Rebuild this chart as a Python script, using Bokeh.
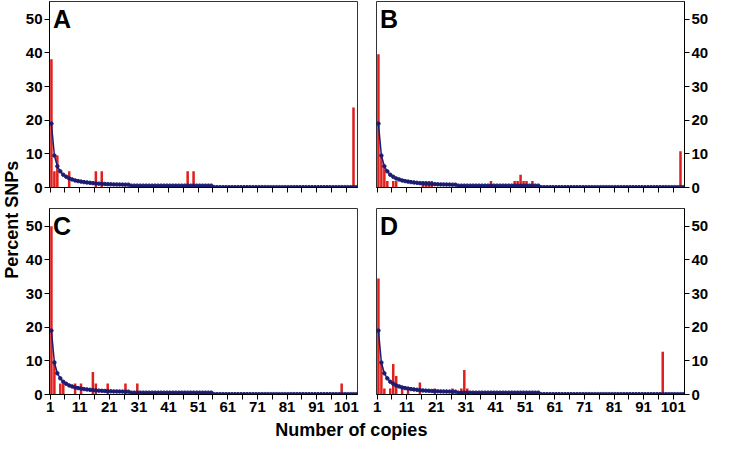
from math import pi
from bokeh.plotting import figure
from bokeh.models import FixedTicker, Label, ColumnDataSource, Range1d
from bokeh.layouts import row, column
from bokeh.transform import dodge
from bokeh.embed import file_html
from bokeh.resources import INLINE

# ---------------- data ----------------
copies = list(range(1, 106))
expected_pct = [19.0, 9.5, 6.3, 4.8, 3.8, 3.2, 2.7, 2.4, 2.1, 1.9,
                1.75, 1.6, 1.5, 1.4, 1.3, 1.2, 1.15, 1.1, 1.05, 1.0,
                0.95, 0.92, 0.9, 0.88, 0.86, 0.85, 0.84,
                0.55, 0.55, 0.55, 0.55, 0.55, 0.55, 0.55, 0.55, 0.55, 0.55,
                0.55, 0.55, 0.55, 0.55, 0.55, 0.55, 0.55, 0.55, 0.55, 0.55,
                0.55, 0.55, 0.55, 0.55, 0.55, 0.55, 0.55, 0.55,
                0.1, 0.1, 0.1, 0.1, 0.1, 0.1, 0.1, 0.1, 0.1, 0.1,
                0.1, 0.1, 0.1, 0.1, 0.1, 0.1, 0.1, 0.1, 0.1, 0.1,
                0.1, 0.1, 0.1, 0.1, 0.1, 0.1, 0.1, 0.1, 0.1, 0.1,
                0.1, 0.1, 0.1, 0.1, 0.1, 0.1, 0.1, 0.1, 0.1, 0.1,
                0.1, 0.1, 0.1, 0.1, 0.1, 0.1, 0.1, 0.1, 0.1, 0.1]

a_copies = [1, 2, 3, 7, 16, 18, 47, 49, 103]
a_pct = [38.1, 4.8, 9.5, 4.8, 4.8, 4.8, 4.8, 4.8, 23.8]

b_copies = [1, 2, 3, 4, 6, 7, 16, 17, 18, 19, 39, 47, 48, 49, 50, 51, 53, 103]
b_pct = [39.6, 9.4, 5.7, 1.9, 1.9, 1.9, 1.9, 1.9, 1.9, 1.9, 1.9, 1.9, 1.9, 3.8, 1.9, 1.9, 1.9, 10.8]

c_copies = [1, 2, 4, 5, 9, 11, 15, 16, 20, 26, 30, 99]
c_pct = [50.0, 10.0, 3.3, 3.3, 3.3, 3.3, 6.7, 3.3, 3.3, 3.3, 3.3, 3.3]

d_copies = [1, 2, 3, 5, 6, 7, 9, 11, 15, 20, 26, 29, 30, 31, 97]
d_pct = [34.5, 9.1, 1.8, 1.8, 9.1, 5.5, 1.8, 1.8, 3.6, 1.8, 1.8, 1.8, 7.3, 1.8, 12.7]

x_tick_labels = [1, 11, 21, 31, 41, 51, 61, 71, 81, 91, 101]
x_minor_ticks = [6, 16, 26, 36, 46, 56, 66, 76, 86, 96, 106]
y_tick_labels = [0, 10, 20, 30, 40, 50]

FONT = "Liberation Sans"
RED = "#e0201c"
NAVY = "#1c1c72"


def make_panel(letter, bx, by, side, show_xlabels, w, h, bl, br, bt, bb):
    p = figure(width=w, height=h, x_range=Range1d(0.8, 104.8), y_range=Range1d(0, 55.3),
               toolbar_location=None, output_backend="svg", y_axis_location=side,
               min_border_left=bl, min_border_right=br, min_border_top=bt, min_border_bottom=bb)
    p.xgrid.visible = False
    p.ygrid.visible = False
    p.outline_line_color = "#333333"
    p.outline_line_width = 1
    p.background_fill_color = "white"
    p.border_fill_color = "white"

    xa = p.xaxis[0]
    xa.ticker = FixedTicker(ticks=x_tick_labels, minor_ticks=x_minor_ticks)
    xa.axis_line_color = "black"
    xa.major_tick_line_color = "black"
    xa.minor_tick_line_color = "black"
    xa.major_tick_out = 5
    xa.major_tick_in = 0
    xa.minor_tick_out = 5
    xa.minor_tick_in = 0
    xa.major_label_text_font = FONT
    xa.major_label_text_font_style = "bold"
    xa.major_label_text_color = "black"
    if show_xlabels:
        xa.major_label_text_font_size = "15px"
        xa.major_label_standoff = 2
    else:
        xa.major_label_overrides = {t: "" for t in x_tick_labels}
        xa.major_label_text_font_size = "1px"
        xa.major_label_standoff = 0

    ya = p.yaxis[0]
    ya.ticker = FixedTicker(ticks=y_tick_labels)
    ya.axis_line_color = "black"
    ya.major_tick_line_color = "black"
    ya.minor_tick_line_color = None
    ya.major_tick_out = 5
    ya.major_tick_in = 0
    ya.major_label_text_font = FONT
    ya.major_label_text_font_style = "bold"
    ya.major_label_text_font_size = "15px"
    ya.major_label_text_color = "black"
    ya.major_label_standoff = 2

    bars = ColumnDataSource(dict(x=bx, y=by))
    p.vbar(x=dodge("x", 0.45, range=p.x_range), top="y", bottom=0, width=0.85,
           fill_color=RED, line_color=None, source=bars)

    curve = ColumnDataSource(dict(x=copies, y=expected_pct))
    p.line(x=dodge("x", 0.45, range=p.x_range), y="y", line_color=NAVY, line_width=1.5, source=curve)
    p.scatter(x=dodge("x", 0.45, range=p.x_range), y="y", marker="circle", size=3.5,
              fill_color=NAVY, line_color=NAVY, source=curve)

    p.add_layout(Label(x=2.0, y=54.4, text=letter, text_font=FONT, text_font_style="bold",
                       text_font_size="25px", text_baseline="top", text_align="left",
                       text_color="black"))
    return p


pA = make_panel("A", a_copies, a_pct, "left", False, 341, 198, 25, 6, 1, 11)
pB = make_panel("B", b_copies, b_pct, "right", False, 348, 198, 13, 25, 1, 11)
pC = make_panel("C", c_copies, c_pct, "left", True, 341, 218, 25, 6, 10, 22)
pD = make_panel("D", d_copies, d_pct, "right", True, 348, 218, 13, 25, 10, 22)


def blank(w, h):
    f = figure(width=w, height=h, x_range=Range1d(0, 1), y_range=Range1d(0, 1),
               toolbar_location=None, output_backend="svg",
               x_axis_location=None, y_axis_location=None,
               min_border=0, min_border_left=0, min_border_right=0,
               min_border_top=0, min_border_bottom=0)
    f.xgrid.visible = False
    f.ygrid.visible = False
    f.outline_line_color = None
    return f


ylab = blank(22, 416)
ylab.add_layout(Label(x=0.5, y=0.473, text="Percent SNPs", angle=pi / 2, text_font=FONT,
                      text_font_style="bold", text_font_size="18px", text_align="center",
                      text_baseline="middle", text_color="black"))

xlab = blank(711, 26)
xlab.add_layout(Label(x=0.4935, y=0.5, text="Number of copies", text_font=FONT,
                      text_font_style="bold", text_font_size="18px", text_align="center",
                      text_baseline="middle", text_color="black"))

layout = column(row(ylab, column(row(pA, pB), row(pC, pD))), xlab)

open("out.html", "w").write(file_html(layout, INLINE))
